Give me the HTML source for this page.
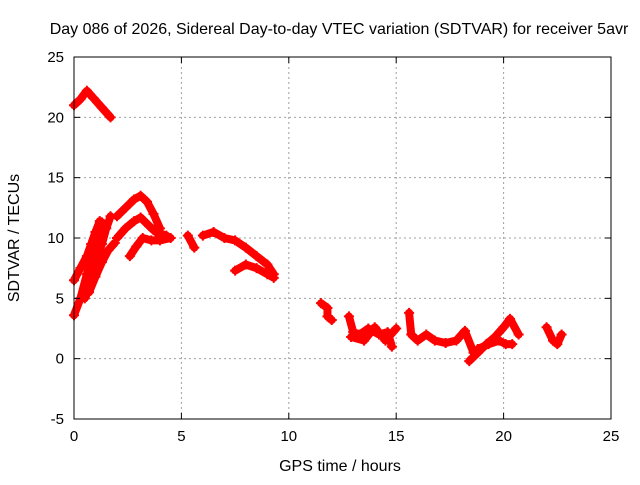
<!DOCTYPE html>
<html><head><meta charset="utf-8"><style>
body{margin:0;background:#fff;width:640px;height:480px;overflow:hidden;font-family:"Liberation Sans",sans-serif}
text{font-family:"Liberation Sans",sans-serif;font-size:15px;fill:#000}
.big{font-size:16px}
</style></head><body>
<svg id="chart" width="640" height="480" xmlns="http://www.w3.org/2000/svg">
<rect width="640" height="480" fill="#fff"/>
<g id="grid"></g><g id="data"></g><g id="axes"></g>
<text class="big" x="339" y="34" text-anchor="middle">Day 086 of 2026, Sidereal Day-to-day VTEC variation (SDTVAR) for receiver 5avr</text>
<text class="big" x="340" y="471" text-anchor="middle">GPS time / hours</text>
<text class="big" transform="translate(19,238) rotate(-90)" text-anchor="middle">SDTVAR / TECUs</text>
</svg>
<script>
const xTicks=[0,5,10,15,20,25];
const yTicks=[-5,0,5,10,15,20,25];
const trackHours=[
 [0,0.3,0.6,0.9,1.3,1.7],
 [0,0.3,0.6,0.9,1.1,1.3],
 [0,0.3,0.6,0.8,1.0,1.2],
 [0.5,0.8,1.0,1.3,1.5,1.7],
 [0.7,1.0,1.3,1.6,1.9],
 [2.0,2.4,2.8,3.1,3.4,3.7,4.0],
 [2.0,2.4,2.8,3.1,3.5,3.8,4.3],
 [2.6,2.9,3.2,3.6,4.0,4.5],
 [5.3,5.6],
 [6.0,6.5,7.0,7.5,8.0,8.5,9.0,9.3],
 [7.5,8.0,8.5,9.0,9.3],
 [11.5,11.8,11.8,12.0],
 [12.8,13.0,13.3,13.7,14.2,14.6,14.8],
 [12.9,13.5,14.0,14.5,15.0],
 [15.6,15.7,16.0,16.4,16.8,17.3,17.8,18.2,18.6],
 [18.4,18.8,19.2,19.6,20.0,20.3,20.7],
 [18.8,19.3,19.8,20.1,20.4],
 [22.0,22.3,22.5,22.7]
];
const trackValues=[
 [21,21.5,22.2,21.6,20.8,20],
 [3.6,5,7,9,10.5,11.3],
 [6.5,7.5,8.5,9.5,10.5,11.4],
 [5,6.5,8,9.5,10.8,11.8],
 [5.5,6.8,8,9,9.6],
 [11.8,12.5,13.2,13.5,13,12,10.8],
 [10,10.8,11.4,11.7,11,10.5,10.2],
 [8.5,9.3,10,9.8,9.8,10],
 [10.2,9.2],
 [10.2,10.5,10,9.8,9.2,8.5,7.8,7],
 [7.3,7.8,7.5,7,6.7],
 [4.6,4.2,3.5,3.2],
 [3.5,2.2,2,2.5,2,2.2,1],
 [1.8,1.5,2.6,1.5,2.5],
 [3.8,2,1.5,2,1.5,1.3,1.5,2.3,0.5],
 [-0.2,0.5,1.2,1.8,2.6,3.3,2],
 [0.8,1.2,1.5,1.2,1.2],
 [2.6,1.5,1.2,2]
];
const NS='http://www.w3.org/2000/svg';
const X0=74,X1=611,Y0=419,Y1=57;
function sx(h){return X0+(h-0)/(25-0)*(X1-X0);}
function sy(v){return Y0-(v+5)/30*(Y0-Y1);}
function mk(t,a,p){const e=document.createElementNS(NS,t);for(const k in a)e.setAttribute(k,a[k]);p.appendChild(e);return e;}
const grid=document.getElementById('grid'),axes=document.getElementById('axes'),data=document.getElementById('data');
xTicks.forEach(t=>{
 if(t>0&&t<25){const l=mk('line',{x1:sx(t),x2:sx(t),y1:Y1,y2:Y0,stroke:'#a0a0a0','stroke-dasharray':'2,3'},grid);
 
 }
 mk('line',{x1:sx(t),x2:sx(t),y1:Y0,y2:Y0-6,stroke:'#000'},axes);
 mk('line',{x1:sx(t),x2:sx(t),y1:Y1,y2:Y1+6,stroke:'#000'},axes);
 const tx=mk('text',{x:sx(t),y:Y0+22,'text-anchor':'middle'},axes);tx.textContent=t;
 
 
});
yTicks.forEach(t=>{
 if(t>-5&&t<25){const l=mk('line',{x1:X0,x2:X1,y1:sy(t),y2:sy(t),stroke:'#a0a0a0','stroke-dasharray':'2,3'},grid);
 
 }
 mk('line',{x1:X0,x2:X0+6,y1:sy(t),y2:sy(t),stroke:'#000'},axes);
 mk('line',{x1:X1,x2:X1-6,y1:sy(t),y2:sy(t),stroke:'#000'},axes);
 const tx=mk('text',{x:X0-10,y:sy(t)+5,'text-anchor':'end'},axes);tx.textContent=t;
 
 
});
const fr=mk('rect',{x:X0,y:Y1,width:X1-X0,height:Y0-Y1,fill:'none',stroke:'#000'},axes);


trackHours.forEach((hs,i)=>{
 const vs=trackValues[i];
 const pts=hs.map((h,j)=>sx(h)+','+sy(vs[j])).join(' ');
 const pl=mk('polyline',{points:pts,fill:'none',stroke:'#ff0000','stroke-width':8,'stroke-linejoin':'round','stroke-linecap':'round'},data);
 
 
 hs.forEach((h,j)=>{
  const x=sx(h),y=sy(vs[j]);
  const p=mk('path',{d:`M${x-5},${y}H${x+5}M${x},${y-5}V${y+5}`,stroke:'#ff0000','stroke-width':2},data);
  
  
 });
});
</script>
</body></html>
